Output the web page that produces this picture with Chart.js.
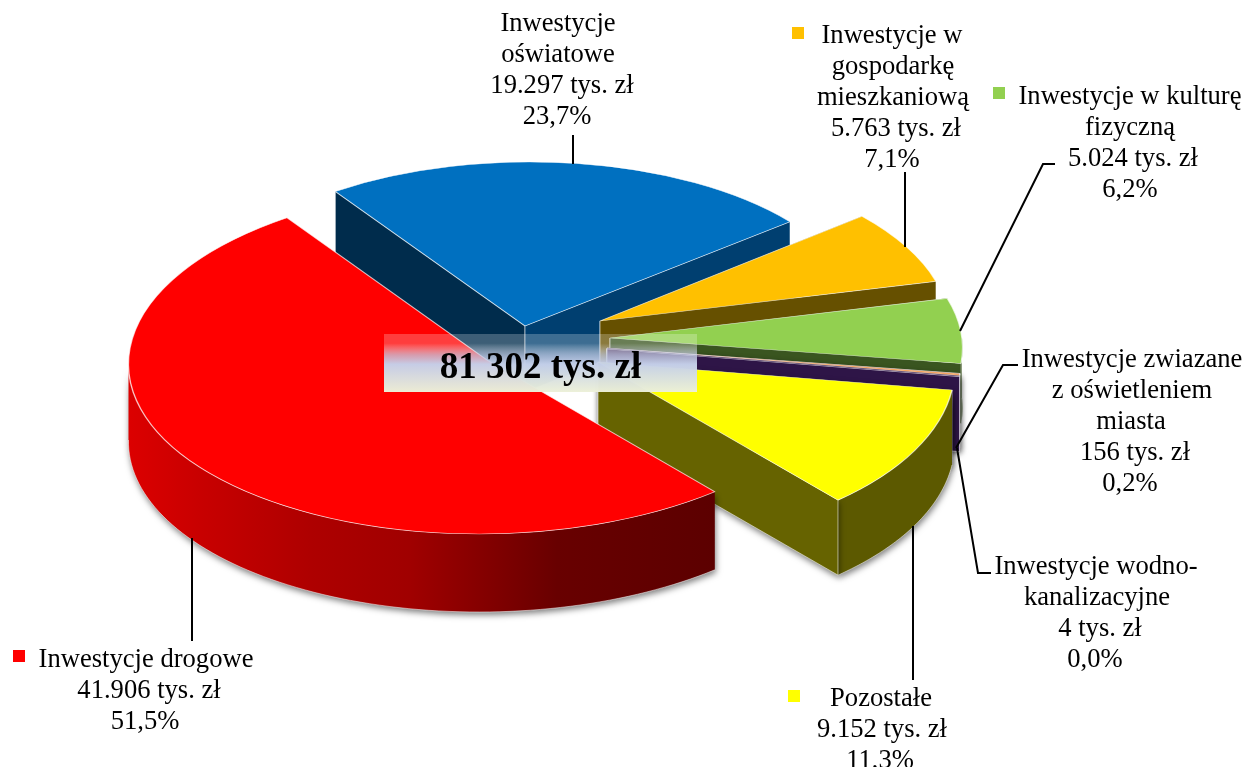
<!DOCTYPE html>
<html lang="pl">
<head>
<meta charset="utf-8">
<title>Inwestycje</title>
<style>html,body{margin:0;padding:0;background:#fff}canvas{display:block}</style>
<script src="https://cdn.jsdelivr.net/npm/chart.js@4/dist/chart.umd.min.js"></script>
</head>
<body>
<canvas id="c" width="1244" height="767"></canvas>
<script>
// ---- data ----
const categories = ['Inwestycje drogowe','Inwestycje oświatowe','Inwestycje w gospodarkę mieszkaniową','Inwestycje w kulturę fizyczną','Inwestycje zwiazane z oświetleniem miasta','Inwestycje wodno-kanalizacyjne','Pozostałe'];
const values = [41906, 19297, 5763, 5024, 156, 4, 9152];
const valueLabels = ['41.906 tys. zł','19.297 tys. zł','5.763 tys. zł','5.024 tys. zł','156 tys. zł','4 tys. zł','9.152 tys. zł'];
const percentLabels = ['51,5%','23,7%','7,1%','6,2%','0,2%','0,0%','11,3%'];
const nameLines = [['Inwestycje drogowe'],['Inwestycje','oświatowe'],['Inwestycje w','gospodarkę','mieszkaniową'],['Inwestycje w kulturę','fizyczną'],['Inwestycje zwiazane','z oświetleniem','miasta'],['Inwestycje wodno-','kanalizacyjne'],['Pozostałe']];
const totalLabel = '81 302 tys. zł';

// ---- styles and layout ----
const topColors = ['#ff0000','#0070c0','#ffc000','#92d050','#f4a460','#e46c0a','#ffff00'];
const lineX = [[146,149,145],[558,558,562,557],[892,893,893,896,892],[1130,1130,1133,1130],[1132,1132,1131,1135,1130],[1096,1097,1100,1095],[881,882,880]];
const lineTop = [660,24,36,97,360,567,699];
const linePitch = 30.9;
const keySquares = [[13,650,'#ff0000'],null,[792,27,'#ffc000'],[993,87,'#92d050'],null,null,[788,690,'#ffff00']];
const leaders = [
  [[192,538],[192,641]],
  [[573,135],[573,164]],
  [[905,172],[905,247]],
  [[1055,164],[1043,164],[960,331]],
  [[1018,365],[1003,365],[956,448]],
  [[991,573],[978,573],[957,448]],
  [[913,526],[913,680]]
];
// per-slice projected apex, 2x2 projection (unit circle -> screen) and extrusion depth
const views = [
  {ox:487,oy:360,a:358.5,b:-4,c:-2,d:174,depth:78},
  {ox:525,oy:326,a:339,b:-3,c:-1,d:164,depth:66},
  {ox:600,oy:321,a:349,b:14,c:-1,d:165,depth:55},
  {ox:610,oy:338,a:352,b:21,c:0,d:169,depth:60},
  {ox:607,oy:348,a:354,b:20,c:-1,d:175,depth:75},
  {ox:607,oy:349,a:354,b:20,c:-1,d:175,depth:75},
  {ox:598,oy:362,a:356.6,b:13.5,c:-1.7,d:182,depth:75}
];
// cut-face colours: [face at slice start, face at slice end]
const faceColors = [null,['#002c4c','#003f70'],['#665000','#665000'],['#3a5520','#3a5520'],['#2e1547','#2e1547'],['#2e1547','#2e1547'],['#666300','#666300']];
const wallColors = [null,null,null,'#3a5520',null,null,'#5c5900'];
// order in which slices are painted, back to front
const paintOrder = [1,2,3,4,5,6,0];
const redWallStops = [[0,'#dc0000'],[0.125,'#c80000'],[0.31,'#ae0000'],[0.48,'#a00000'],[0.73,'#680000'],[1,'#5c0000']];

function pt(v,t,dz){return [v.ox+v.a*Math.cos(t)+v.b*Math.sin(t), v.oy+v.c*Math.cos(t)+v.d*Math.sin(t)+(dz||0)];}

function setShadow(ctx,on){
  ctx.shadowColor = on ? 'rgba(0,0,0,0.5)' : 'transparent';
  ctx.shadowBlur = on ? 6 : 0;
  ctx.shadowOffsetX = on ? 1 : 0;
  ctx.shadowOffsetY = on ? 3 : 0;
}

function drawFace(ctx,v,t,color,shadow){
  const p = pt(v,t);
  ctx.save();
  setShadow(ctx,shadow);
  ctx.beginPath();
  ctx.moveTo(v.ox,v.oy);ctx.lineTo(p[0],p[1]);ctx.lineTo(p[0],p[1]+v.depth);ctx.lineTo(v.ox,v.oy+v.depth);ctx.closePath();
  ctx.fillStyle=color;ctx.fill();
  ctx.restore();
  ctx.strokeStyle='rgba(255,255,255,0.55)';ctx.lineWidth=1;
  ctx.beginPath();
  ctx.moveTo(v.ox,v.oy);ctx.lineTo(v.ox,v.oy+v.depth);ctx.lineTo(p[0],p[1]+v.depth);ctx.lineTo(p[0],p[1]);
  ctx.stroke();
}

function drawWall(ctx,v,t0,t1,fill,shadow){
  const lo=Math.max(t0,0),hi=Math.min(t1,Math.PI);
  if(hi<=lo)return;
  const n=80;
  ctx.save();
  setShadow(ctx,shadow);
  ctx.beginPath();
  for(let i=0;i<=n;i++){const p=pt(v,lo+(hi-lo)*i/n);i?ctx.lineTo(p[0],p[1]):ctx.moveTo(p[0],p[1]);}
  for(let i=n;i>=0;i--){const p=pt(v,lo+(hi-lo)*i/n,v.depth);ctx.lineTo(p[0],p[1]);}
  ctx.closePath();
  ctx.fillStyle=fill;ctx.fill();
  ctx.restore();
  ctx.strokeStyle='rgba(255,255,255,0.5)';ctx.lineWidth=1;
  ctx.beginPath();
  for(let i=0;i<=n;i++){const p=pt(v,lo+(hi-lo)*i/n,v.depth);i?ctx.lineTo(p[0],p[1]):ctx.moveTo(p[0],p[1]);}
  ctx.stroke();
}

const pie3d = {
  id:'pie3d',
  beforeDatasetDraw(chart){
    const ctx=chart.ctx, arcs=chart.getDatasetMeta(0).data;
    const norm=t=>{let x=t;while(x>Math.PI)x-=2*Math.PI;while(x<-Math.PI)x+=2*Math.PI;return x;};
    for(const i of paintOrder){
      const arc=arcs[i], v=views[i];
      const a0=norm(arc.startAngle), a1=a0+(arc.endAngle-arc.startAngle);
      if(i===0){
        const g=ctx.createLinearGradient(128,0,716,0);
        redWallStops.forEach(s=>g.addColorStop(s[0],s[1]));
        drawWall(ctx,v,a0,a1,g,true);
      }else{
        const faceShadow=(i===4||i===6);
        drawFace(ctx,v,a0,faceColors[i][0],faceShadow);
        if(wallColors[i])drawWall(ctx,v,a0,a1,wallColors[i],i===6);
        drawFace(ctx,v,a1,faceColors[i][1],faceShadow);
      }
      const R=arc.outerRadius;
      ctx.save();
      ctx.transform(v.a/R,v.c/R,v.b/R,v.d/R,v.ox,v.oy);
      ctx.translate(-arc.x,-arc.y);
      arc.draw(ctx);
      ctx.restore();
    }
    return false;
  },
  afterDraw(chart){
    const ctx=chart.ctx;
    ctx.save();
    ctx.strokeStyle='#000';ctx.lineWidth=2;ctx.lineJoin='miter';
    for(const l of leaders){ctx.beginPath();l.forEach((p,i)=>i?ctx.lineTo(p[0],p[1]):ctx.moveTo(p[0],p[1]));ctx.stroke();}
    ctx.fillStyle='#000';ctx.textAlign='center';ctx.textBaseline='middle';
    ctx.font='26.6px "Liberation Serif"';
    nameLines.forEach((names,i)=>{
      const lines=names.concat([valueLabels[i],percentLabels[i]]);
      lines.forEach((s,j)=>ctx.fillText(s,lineX[i][j],lineTop[i]+j*linePitch));
    });
    for(const k of keySquares){if(k){ctx.fillStyle=k[2];ctx.fillRect(k[0],k[1],12,12);}}
    const g=ctx.createLinearGradient(0,334,0,392);
    g.addColorStop(0,'rgba(255,255,255,0.24)');
    g.addColorStop(0.16,'rgba(255,255,255,0.24)');
    g.addColorStop(0.36,'rgba(200,208,232,0.75)');
    g.addColorStop(0.52,'rgba(197,208,234,0.98)');
    g.addColorStop(1,'rgba(236,240,216,0.98)');
    ctx.fillStyle=g;ctx.fillRect(384,334,313,58);
    ctx.fillStyle='#000';ctx.font='bold 37px "Liberation Serif"';
    ctx.fillText(totalLabel,540.5,368);
    ctx.restore();
  }
};

new Chart(document.getElementById('c'),{
  type:'pie',
  data:{labels:categories,datasets:[{data:values,backgroundColor:topColors,borderColor:'rgba(255,255,255,0.7)',borderWidth:1.5}]},
  options:{
    responsive:false,animation:false,events:[],rotation:139.91,
    plugins:{legend:{display:false},tooltip:{enabled:false}}
  },
  plugins:[pie3d]
});
</script>
</body>
</html>
